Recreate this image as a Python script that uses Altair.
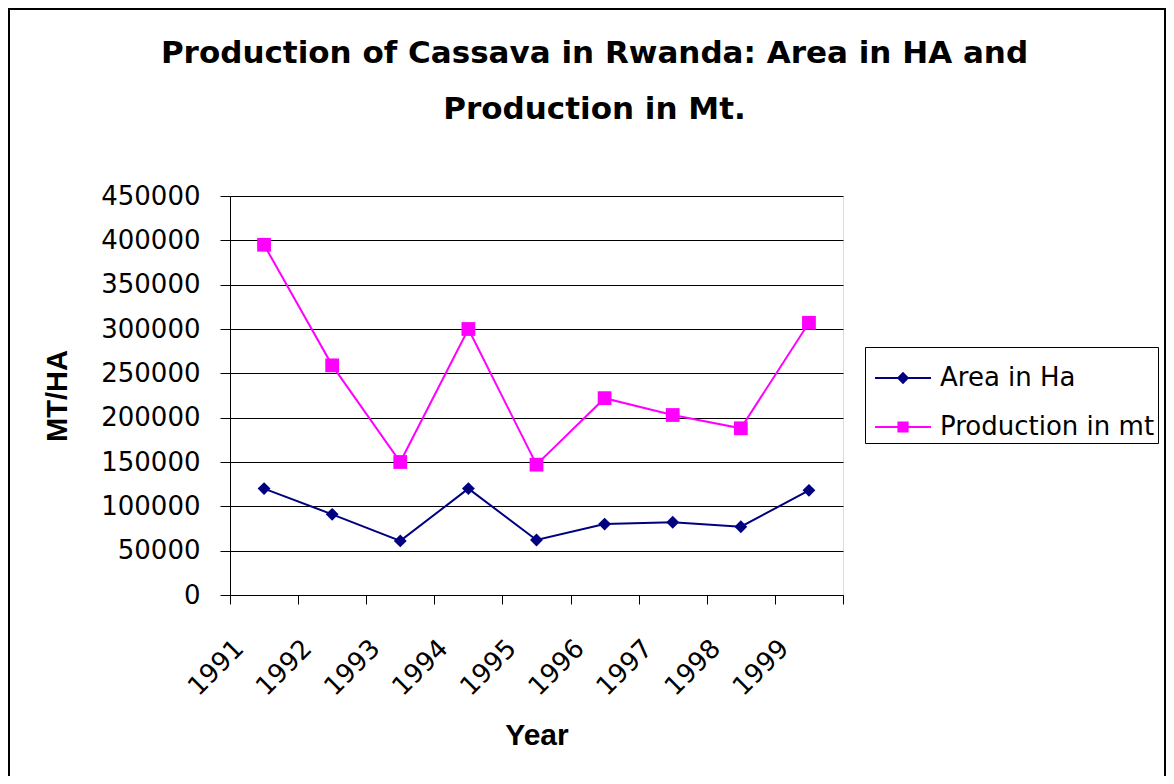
import altair as alt
import pandas as pd

# ---- data ----
years = ["1991", "1992", "1993", "1994", "1995", "1996", "1997", "1998", "1999"]
area_ha = [120000, 91000, 61000, 120000, 62000, 80000, 82000, 77000, 118000]
production_mt = [395000, 259000, 150000, 300000, 147000, 222000, 203000, 188000, 307000]
series_names = ["Area in Ha", "Production in mt"]
series_colors = ["#000080", "#FF00FF"]
y_tick_values = [0, 50000, 100000, 150000, 200000, 250000, 300000, 350000, 400000, 450000]
title_lines = ["Production of Cassava in Rwanda: Area in HA and", "Production in Mt."]

df = pd.DataFrame({
    "Year": years + years,
    "Series": [series_names[0]] * len(years) + [series_names[1]] * len(years),
    "Value": area_ha + production_mt,
})

W, H = 613, 399
PAD = {"left": 222, "top": 188, "right": 1158 - 222 - W, "bottom": 768 - 188 - H}

x_scale = alt.Scale(type="band", domain=years, paddingInner=0, paddingOuter=0)
y_scale = alt.Scale(domain=[0, 450000], nice=False, zero=True)
color_scale = alt.Scale(domain=series_names, range=series_colors)

x_axis = alt.Axis(
    tickBand="extent", labelAngle=-45, labelAlign="right", labelBaseline="middle",
    labelOffset=-25, labelPadding=40, labelFont="DejaVu Sans", labelFontSize=26,
    labelColor="black", labelOverlap=False, tickColor="black", tickSize=9,
    domainColor="black", domainWidth=1, grid=False,
    titleFont="Liberation Sans", titleFontWeight="bold", titleFontSize=30,
    titleColor="black", titleX=W / 2, titleY=140, titleAlign="center",
    titleBaseline="middle",
)
y_axis = alt.Axis(
    values=y_tick_values, format="d", grid=True, gridColor="black", gridWidth=1.2,
    tickColor="black", tickSize=10, labelPadding=20, labelFont="DejaVu Sans",
    labelFontSize=26, labelColor="black", labelOverlap=False,
    domainColor="black", domainWidth=1,
    titleFont="Liberation Sans", titleFontWeight="bold", titleFontSize=29,
    titleColor="black", titleX=-173, titleY=H / 2, titleAngle=-90,
    titleAlign="center", titleBaseline="middle",
)

X = alt.X("Year:O", scale=x_scale, axis=x_axis, title="Year")
Y = alt.Y("Value:Q", scale=y_scale, axis=y_axis, title="MT/HA")

base = alt.Chart(df)


def series_layers(name, color, shape, size):
    sub = base.transform_filter(alt.datum.Series == name)
    line = sub.mark_line(strokeWidth=2, color=color).encode(x=X, y=Y)
    pts = sub.mark_point(filled=True, shape=shape, size=size, color=color, opacity=1).encode(x=X, y=Y)
    return [line, pts]


area_layers = series_layers(series_names[0], series_colors[0], "diamond", 165)
prod_layers = series_layers(series_names[1], series_colors[1], "square", 190)

# legend-only layer (no data drawn): line-through-marker symbols
diamond_sym = "M-1,-0.036H1V0.036H-1Z M0,-0.22L0.22,0L0,0.22L-0.22,0Z"
square_sym = "M-1,-0.036H1V0.036H-1Z M-0.2,-0.2H0.2V0.2H-0.2Z"
leg = alt.Legend(
    title=None, orient="none", legendX=635, legendY=151, direction="vertical",
    fillColor="white", strokeColor="black", padding=3, symbolOffset=7,
    labelFont="DejaVu Sans", labelFontSize=26, labelColor="black", labelLimit=500,
    symbolSize=3136, symbolStrokeWidth=0, symbolOpacity=1, labelOffset=9, rowPadding=8,
)
legend_layer = base.transform_filter("false").mark_point(filled=True, opacity=1).encode(
    x=X, y=Y,
    color=alt.Color("Series:N", scale=color_scale, legend=leg),
    shape=alt.Shape("Series:N", scale=alt.Scale(domain=series_names, range=[diamond_sym, square_sym]), legend=leg),
)

frame = alt.Chart(pd.DataFrame({"k": [0]})).mark_rect(
    fill="transparent", stroke="black", strokeWidth=2
).encode(x=alt.value(-221), x2=alt.value(935), y=alt.value(-187), y2=alt.value(700))

chart = alt.layer(*area_layers, *prod_layers, legend_layer, frame).properties(
    width=W, height=H, padding=PAD, autosize=alt.AutoSizeParams(type="none"),
    title=alt.TitleParams(
        text=title_lines, font="DejaVu Sans", fontSize=31, fontWeight="bold",
        color="black", anchor="middle", frame="group", dx=58, offset=-142,
        baseline="alphabetic", lineHeight=56,
    ),
).configure_view(fill="#C0C0C0", stroke="#808080", strokeWidth=1).configure(background="white")

chart.save("out.html", embed_options={"renderer": "svg", "actions": False})
